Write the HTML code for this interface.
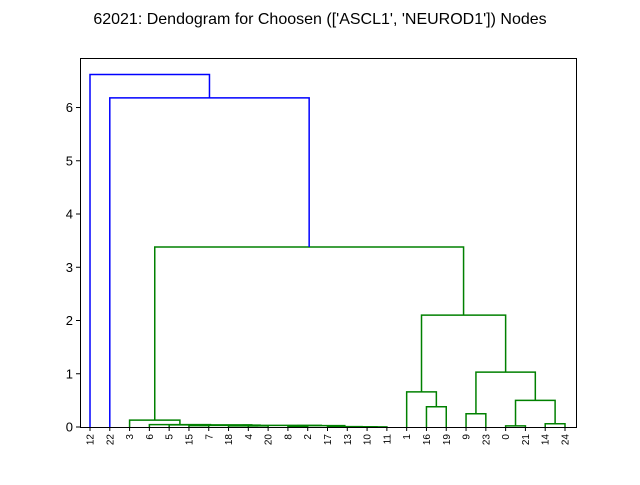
<!DOCTYPE html>
<html><head><meta charset="utf-8"><style>
body{margin:0;background:#fff;font-family:"Liberation Sans",sans-serif}
</style></head><body>
<svg id="c" width="640" height="480" xmlns="http://www.w3.org/2000/svg">
<text x="320" y="24" text-anchor="middle" font-size="16">62021: Dendogram for Choosen (['ASCL1', 'NEUROD1']) Nodes</text>
<g id="g"></g>
<rect x="80.5" y="58.5" width="496" height="369" fill="none" stroke="#000" stroke-width="1"/>
</svg>
<script>
const leaves=["12","22","3","6","5","15","7","18","4","20","8","2","17","13","10","11","1","16","19","9","23","0","21","14","24"];
// merges: ids are leaf labels or "cN" for merge N
const mergeLeft=["10","13","17","8","c3","4","18","15","c7","c6","5","6","3","16","1","9","0","14","c16","c15","c14","c12","22","12"];
const mergeRight=["11","c0","c1","2","c2","20","c5","7","c4","c8","c9","c10","c11","19","c13","23","21","24","c17","c18","c19","c20","c21","c22"];
const mergeHeight=[0.003,0.005,0.008,0.012,0.025,0.02,0.022,0.025,0.03,0.035,0.04,0.045,0.13,0.38,0.66,0.25,0.02,0.06,0.5,1.03,2.1,3.38,6.18,6.62];
const mergeColor=["g","g","g","g","g","g","g","g","g","g","g","g","g","g","g","g","g","g","g","g","g","g","b","b"];
const yTicks=[0,1,2,3,4,5,6];
const X0=80,X1=576,Y0=427,YTOP=58,YMAX=6.93;
const xs=i=>90+i*(565-90)/(leaves.length-1);
const ys=v=>Y0-v*(Y0-YTOP)/YMAX;
const g=document.getElementById('g');const NS="http://www.w3.org/2000/svg";
function mk(t,a){const e=document.createElementNS(NS,t);for(const k in a)e.setAttribute(k,a[k]);g.appendChild(e);return e;}
const pos={};leaves.forEach((l,i)=>pos[l]={x:xs(i),h:0});
mergeLeft.forEach((a,i)=>{const b=mergeRight[i],A=pos[a],B=pos[b],h=mergeHeight[i];
const col=mergeColor[i]==="b"?"#0000ff":"#008000";
const p=mk('polyline',{points:`${A.x},${ys(A.h)} ${A.x},${ys(h)} ${B.x},${ys(h)} ${B.x},${ys(B.h)}`,fill:'none',stroke:col,'stroke-width':1.5});


pos['c'+i]={x:(A.x+B.x)/2,h:h};});
yTicks.forEach(v=>{const y=ys(v);
const t=mk('line',{x1:X0-4,x2:X0,y1:y,y2:y,stroke:'#000'});


const tx=mk('text',{x:X0-7,y:y+4.5,'text-anchor':'end','font-size':13});tx.textContent=v;

});
leaves.forEach((l,i)=>{const x=xs(i);
const t=mk('line',{x1:x,x2:x,y1:Y0,y2:Y0+4,stroke:'#000'});


const tx=mk('text',{x:0,y:0,'text-anchor':'end','font-size':10,transform:`translate(${x+3.5},${Y0+7}) rotate(-90)`});tx.textContent=l;

});
</script>
</body></html>
